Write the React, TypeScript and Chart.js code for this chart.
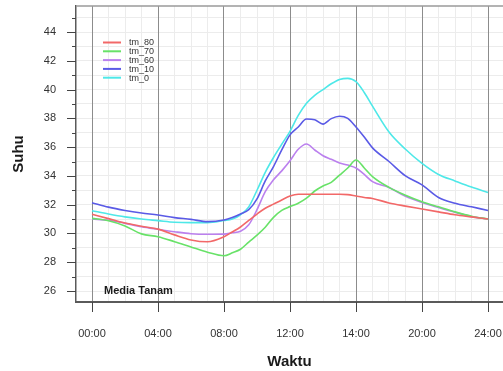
import React, { useEffect, useRef } from 'react';
import { Chart, registerables } from 'chart.js';

Chart.register(...registerables);

// x positions (one unit = one labelled tick interval)
const positions = [0, 0.25, 0.5, 0.75, 1, 1.25, 1.5, 1.75, 2, 2.125, 2.25, 2.375, 2.5, 2.625, 2.75, 2.875, 3, 3.125, 3.25, 3.375, 3.5, 3.625, 3.75, 3.875, 4, 4.125, 4.25, 4.5, 4.75, 5, 5.25, 5.5, 5.75, 6];
const timeLabels = ['00:00', '04:00', '08:00', '12:00', '14:00', '20:00', '24:00'];
const yTickValues = [26, 27, 28, 29, 30, 31, 32, 33, 34, 35, 36, 37, 38, 39, 40, 41, 42, 43, 44, 45];

const seriesNames = ['tm_80', 'tm_70', 'tm_60', 'tm_10', 'tm_0'];
const seriesColors = ['#f26868', '#68e268', '#bb80ee', '#5a5ae6', '#4ee8e8'];

const tm80 = [31.33, 31.03, 30.72, 30.5, 30.3, 29.9, 29.55, 29.42, 29.77, 30.1, 30.45, 30.9, 31.35, 31.75, 32.04, 32.33, 32.6, 32.72, 32.72, 32.72, 32.72, 32.72, 32.72, 32.7, 32.6, 32.5, 32.43, 32.12, 31.9, 31.7, 31.5, 31.3, 31.15, 31.0];
const tm70 = [31.05, 30.88, 30.52, 29.97, 29.77, 29.43, 29.06, 28.7, 28.45, 28.65, 28.9, 29.4, 29.88, 30.43, 31.12, 31.6, 31.87, 32.1, 32.45, 32.95, 33.3, 33.55, 34.05, 34.55, 35.1, 34.55, 33.95, 33.2, 32.65, 32.2, 31.85, 31.5, 31.2, 31.0];
const tm60 = [31.0, 30.92, 30.7, 30.47, 30.29, 30.12, 29.98, 29.94, 29.95, 30.05, 30.15, 30.6, 31.65, 32.9, 33.73, 34.35, 35.05, 35.85, 36.22, 35.8, 35.4, 35.15, 34.9, 34.75, 34.55, 34.1, 33.6, 33.2, 32.58, 32.15, 31.8, 31.47, 31.17, 31.0];
const tm10 = [32.14, 31.83, 31.6, 31.42, 31.28, 31.1, 30.98, 30.82, 30.93, 31.1, 31.35, 31.65, 32.4, 33.65, 34.65, 35.8, 36.85, 37.4, 37.95, 37.9, 37.6, 37.98, 38.15, 38.0, 37.4, 36.7, 35.95, 35.0, 34.0, 33.37, 32.5, 32.1, 31.85, 31.6];
const tm0 = [31.58, 31.35, 31.15, 31.0, 30.89, 30.78, 30.75, 30.75, 30.9, 31.0, 31.3, 31.85, 33.0, 34.25, 35.28, 36.2, 37.1, 38.2, 39.05, 39.6, 40.0, 40.4, 40.7, 40.78, 40.55, 39.8, 38.85, 37.05, 35.85, 34.87, 34.1, 33.65, 33.22, 32.85];

const seriesValues = [tm80, tm70, tm60, tm10, tm0];

const FONT = '"Liberation Sans", Arial, Helvetica, sans-serif';

const decorPlugin = {
  id: 'decor',
  afterDraw(chart: any) {
    const { ctx, chartArea: ca, scales } = chart;
    const xs = scales.x;
    const ys = scales.y;
    ctx.save();
    const line = (x1: number, y1: number, x2: number, y2: number) => {
      ctx.beginPath();
      ctx.moveTo(x1, y1);
      ctx.lineTo(x2, y2);
      ctx.stroke();
    };
    // top frame line
    ctx.strokeStyle = '#9a9a9a';
    ctx.lineWidth = 1.5;
    line(ca.left, ca.top, ca.right, ca.top);

    // y tick marks
    ctx.strokeStyle = '#444';
    ctx.lineWidth = 1;
    for (const v of yTickValues) {
      const py = Math.round(ys.getPixelForValue(v)) + 0.5;
      const major = v % 2 === 0;
      line(major ? ca.left - 9 : ca.left - 4, py, ca.left, py);
    }
    // x tick marks
    for (let i = 0; i < timeLabels.length; i++) {
      const px = Math.round(xs.getPixelForValue(i)) + 0.5;
      line(px, ca.bottom, px, ca.bottom + 10);
    }

    // legend
    ctx.font = `9px ${FONT}`;
    ctx.textBaseline = 'middle';
    ctx.textAlign = 'left';
    seriesNames.forEach((name, i) => {
      const ly = ca.top + 36.5 + i * 8.8;
      ctx.strokeStyle = seriesColors[i];
      ctx.lineWidth = 2;
      line(ca.left + 27, ly, ca.left + 45, ly);
      ctx.fillStyle = '#333';
      ctx.fillText(name, ca.left + 53, ly + 0.5);
    });

    // annotation
    ctx.font = `bold 11px ${FONT}`;
    ctx.fillStyle = '#1a1a1a';
    ctx.fillText('Media Tanam', ca.left + 28, ca.bottom - 11);

    // axis titles
    ctx.font = `bold 15px ${FONT}`;
    ctx.fillStyle = '#1a1a1a';
    ctx.textAlign = 'center';
    ctx.fillText('Waktu', (ca.left + ca.right) / 2, 362);
    ctx.translate(19, (ca.top + ca.bottom) / 2);
    ctx.rotate(-Math.PI / 2);
    ctx.fillText('Suhu', 0, 0);
    ctx.restore();
  },
};

export default function App() {
  const canvasRef = useRef<HTMLCanvasElement | null>(null);

  useEffect(() => {
    document.body.style.margin = '0';
    const canvas = canvasRef.current;
    if (!canvas) return;
    const chart = new Chart(canvas, {
      type: 'line',
      data: {
        datasets: seriesNames.map((name, i) => ({
          label: name,
          data: positions.map((p, j) => ({ x: p, y: seriesValues[i][j] })),
          borderColor: seriesColors[i],
          backgroundColor: seriesColors[i],
          borderWidth: 1.6,
          pointRadius: 0,
          tension: 0.35,
          cubicInterpolationMode: 'monotone' as const,
          fill: false,
        })),
      },
      options: {
        responsive: false,
        animation: false,
        events: [],
        layout: { padding: { top: 6, right: 0, left: 0, bottom: 0 } },
        plugins: {
          legend: { display: false },
          tooltip: { enabled: false },
          title: { display: false },
        },
        scales: {
          x: {
            type: 'linear',
            min: -16 / 66,
            max: 6 + 15 / 66,
            afterBuildTicks: (scale: any) => {
              const t = [];
              for (let k = 0; k <= 24; k++) t.push({ value: k / 4 });
              scale.ticks = t;
            },
            afterFit: (scale: any) => {
              scale.height = 69;
            },
            grid: {
              color: (c: any) => (c.tick && Number.isInteger(c.tick.value) ? '#8c8c8c' : '#ececec'),
              lineWidth: 1,
              drawTicks: true,
              tickLength: 25,
              tickColor: 'rgba(0,0,0,0)',
              z: 0,
            },
            border: { display: true, color: '#5a5a5a', width: 2 },
            ticks: {
              autoSkip: false,
              maxRotation: 0,
              minRotation: 0,
              padding: 0,
              color: '#333',
              font: { family: FONT, size: 11 },
              callback: (v: any) => (Number.isInteger(v) && v >= 0 && v < timeLabels.length ? timeLabels[v] : ''),
            },
          },
          y: {
            type: 'linear',
            min: 26 - 11 / (259 / 18),
            max: 44 + 26 / (259 / 18),
            afterBuildTicks: (scale: any) => {
              scale.ticks = yTickValues.map((v) => ({ value: v }));
            },
            afterFit: (scale: any) => {
              scale.width = 76;
            },
            grid: {
              color: '#ececec',
              lineWidth: 1,
              drawTicks: true,
              tickLength: 20,
              tickColor: 'rgba(0,0,0,0)',
              z: -1,
            },
            border: { display: true, color: '#5a5a5a', width: 1.5 },
            ticks: {
              autoSkip: false,
              padding: 0,
              color: '#333',
              font: { family: FONT, size: 11, lineHeight: 1.0 },
              callback: (v: any) => (v % 2 === 0 && v <= 44 ? String(v) : ''),
            },
          },
        },
      },
      plugins: [decorPlugin],
    });
    return () => chart.destroy();
  }, []);

  return (
    <div style={{ position: 'absolute', left: 0, top: 0, width: 503, height: 371, background: '#fff' }}>
      <canvas ref={canvasRef} width={503} height={371} style={{ display: 'block' }} />
    </div>
  );
}
